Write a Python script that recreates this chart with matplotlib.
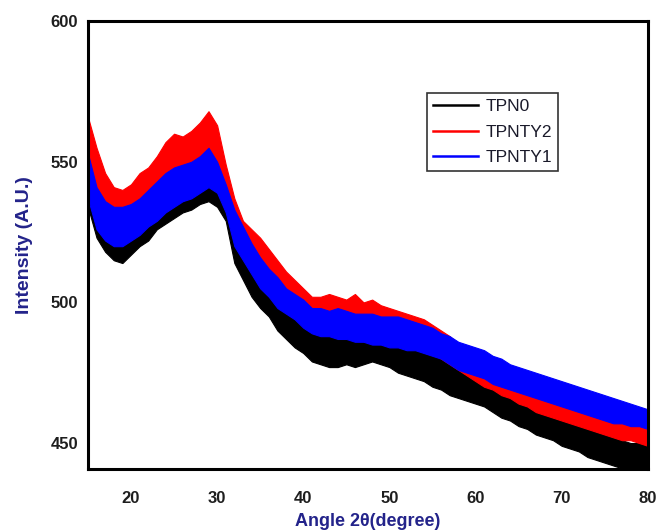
import matplotlib

matplotlib.use("Agg")
import matplotlib.pyplot as plt
import numpy as np
from matplotlib.lines import Line2D

NAVY = "#23238a"
TICK = "#1e1e1e"

# angle 2theta, 1 degree steps
angle = np.arange(15, 81)

# upper / lower edge of each noisy trace
tpn0_hi = [549, 537, 530, 527, 527, 528, 530, 533, 537, 539, 541, 543, 545, 546, 549, 543,
           536, 526, 518, 512, 508, 504, 501, 498, 496, 493, 491, 489, 490, 489, 489, 490,
           489, 490, 489, 488, 486, 485, 484, 482, 481, 480, 479, 477, 476, 475, 474, 472,
           471, 469, 467, 466, 464, 462, 461, 460, 458, 457, 456, 454, 453, 452, 451, 450,
           450, 449]
tpn0_lo = [534, 523, 518, 515, 514, 517, 520, 522, 526, 528, 530, 532, 533, 535, 536, 534,
           529, 514, 508, 502, 498, 495, 490, 487, 484, 482, 479, 478, 477, 477, 478, 477,
           478, 479, 478, 477, 475, 474, 473, 472, 470, 469, 467, 466, 465, 464, 463, 461,
           459, 458, 456, 455, 453, 452, 451, 449, 448, 447, 445, 444, 443, 442, 441, 441,
           440, 440]

tpnty2_hi = [566, 555, 546, 541, 540, 542, 546, 548, 552, 557, 560, 559, 561, 564, 568, 563,
             549, 537, 529, 526, 523, 519, 515, 511, 508, 505, 502, 502, 503, 502, 501, 503,
             500, 501, 499, 498, 497, 496, 495, 494, 492, 490, 488, 485, 482, 480, 478, 476,
             474, 473, 471, 470, 468, 467, 466, 465, 464, 463, 462, 461, 460, 460, 459, 458,
             458, 457]
tpnty2_lo = [550, 538, 532, 529, 528, 530, 533, 535, 537, 541, 543, 546, 548, 551, 553, 548,
             536, 527, 518, 514, 510, 507, 503, 501, 498, 497, 494, 493, 492, 492, 491, 490,
             490, 489, 488, 488, 487, 486, 485, 484, 482, 480, 478, 476, 474, 472, 470, 469,
             467, 466, 464, 463, 461, 460, 459, 458, 457, 456, 455, 454, 453, 452, 451, 451,
             450, 449]

tpnty1_hi = [553, 541, 536, 534, 534, 535, 537, 540, 543, 546, 548, 549, 550, 552, 555, 550,
             542, 533, 527, 521, 516, 512, 509, 505, 503, 501, 498, 498, 497, 498, 497, 496,
             496, 496, 495, 495, 495, 494, 493, 492, 491, 489, 488, 486, 485, 484, 483, 481,
             480, 478, 477, 476, 475, 474, 473, 472, 471, 470, 469, 468, 467, 466, 465, 464,
             463, 462]
tpnty1_lo = [537, 526, 522, 520, 520, 522, 524, 527, 529, 532, 534, 536, 537, 539, 541, 539,
             532, 520, 515, 510, 505, 502, 498, 496, 494, 491, 489, 488, 488, 487, 487, 486,
             486, 485, 485, 484, 484, 483, 483, 482, 481, 480, 478, 476, 475, 474, 473, 471,
             470, 469, 468, 467, 466, 465, 464, 463, 462, 461, 460, 459, 458, 457, 457, 456,
             456, 455]

SERIES = [
    ("TPN0", "black", tpn0_lo, tpn0_hi),
    ("TPNTY2", "#ff0000", tpnty2_lo, tpnty2_hi),
    ("TPNTY1", "#0000ff", tpnty1_lo, tpnty1_hi),
]

plt.rcParams["font.family"] = ["Liberation Sans", "DejaVu Sans"]

fig = plt.figure(figsize=(6.61, 5.31), dpi=100)
ax = fig.add_axes([0.133, 0.117, 0.847, 0.843])

handles = []
for name, c, lo, hi in SERIES:
    ax.fill_between(angle, lo, hi, color=c, linewidth=0.8, edgecolor=c, zorder=2)
    handles.append(Line2D([], [], color=c, lw=1.8, label=name))

ax.set_xlim(15, 80)
ax.set_ylim(440.8, 600)
ax.set_xticks([20, 30, 40, 50, 60, 70, 80])
ax.set_yticks([450, 500, 550, 600])
ax.tick_params(length=0, labelsize=12, colors=TICK)
ax.tick_params(axis="x", pad=16)
ax.tick_params(axis="y", pad=7)
for t in ax.get_xticklabels() + ax.get_yticklabels():
    t.set_fontweight("bold")
for s in ax.spines.values():
    s.set_linewidth(2.2)
    s.set_color("black")

ax.set_xlabel("Angle 2θ(degree)", fontsize=13, fontweight="bold", color=NAVY, labelpad=5)
ax.set_ylabel("Intensity (A.U.)", fontsize=14, fontweight="bold", color=NAVY, labelpad=13)

leg = ax.legend(handles=handles, loc="upper left", bbox_to_anchor=(0.605, 0.84),
                fontsize=12.5, frameon=True, fancybox=False, edgecolor="black",
                handlelength=2.6, handletextpad=0.45, labelspacing=0.6,
                borderpad=0.35, borderaxespad=0)
leg.get_frame().set_linewidth(1.2)
for t in leg.get_texts():
    t.set_color("#1a1a2a")

fig.savefig("out.png", dpi=100)
